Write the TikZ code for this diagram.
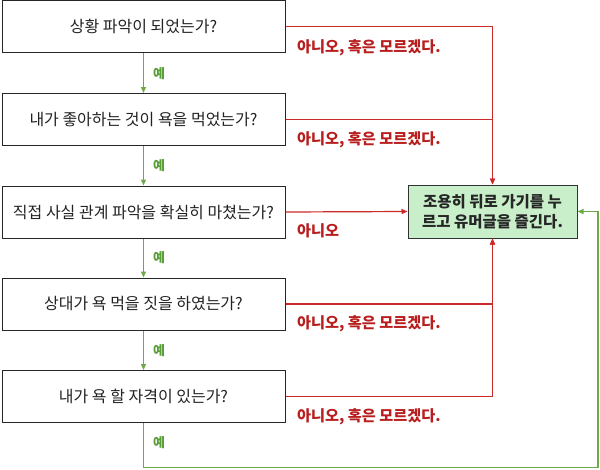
\documentclass[tikz,border=0pt]{standalone}
\usepackage{fontspec}
\setmainfont{Noto Sans CJK KR}
\usetikzlibrary{arrows.meta}
\definecolor{redline}{HTML}{CC2929}
\definecolor{redtext}{HTML}{B81E1E}
\definecolor{greenline}{HTML}{6AAA48}
\definecolor{greentext}{HTML}{5A9E3A}
\definecolor{resfill}{HTML}{C8EFCA}
\definecolor{boxtext}{HTML}{222222}
\tikzset{
  qbox/.style={draw=black!85, line width=1pt, minimum width=283pt, minimum height=52pt, inner sep=0pt, text=boxtext, font=\fontsize{16}{18}\selectfont},
  resbox/.style={draw=black!80, line width=1pt, fill=resfill, minimum width=169pt, minimum height=53pt, inner sep=0pt, align=center, text=black!85, font=\bfseries\fontsize{15.5}{19.5}\selectfont},
  noarrow/.style={draw=redline, line width=1.2pt, -{Triangle[length=6pt,width=5pt]}},
  yesarrow/.style={draw=greenline, line width=1.2pt, -{Triangle[length=6pt,width=5pt]}},
  nolabel/.style={anchor=west, text=redtext, font=\bfseries\fontsize{15.2}{17}\selectfont, inner sep=0pt},
  yeslabel/.style={text=greentext, font=\bfseries\fontsize{13}{15}\selectfont, inner sep=0pt},
}
\begin{document}
\begin{tikzpicture}[x=1pt,y=-1pt]
\useasboundingbox (0,0) rectangle (600,469);
\node[qbox] (b1) at (143.5,26.5) {상황 파악이 되었는가?};
\node[qbox] (b2) at (143.5,119.5) {내가 좋아하는 것이 욕을 먹었는가?};
\node[qbox] (b3) at (143.5,212) {직접 사실 관계 파악을 확실히 마쳤는가?};
\node[qbox] (b4) at (143.5,304) {상대가 욕 먹을 짓을 하였는가?};
\node[qbox] (b5) at (143.5,396.5) {내가 욕 할 자격이 있는가?};
\node[resbox] (res) at (492.5,211.5) {조용히 뒤로 가기를 누\\르고 유머글을 즐긴다.};

\draw[yesarrow] (b1) -- (b2);
\draw[yesarrow] (b2) -- (b3);
\draw[yesarrow] (b3) -- (b4);
\draw[yesarrow] (b4) -- (b5);
\coordinate (g1) at (143.5,467.5);
\coordinate (g2) at (598,467.5);
\draw[yesarrow] (b5.south) -- (g1) -- (g2) |- (res.east);

\node[yeslabel] (y1) at (159,74) {예};
\node[yeslabel] (y2) at (159,165.5) {예};
\node[yeslabel] (y3) at (159,258) {예};
\node[yeslabel] (y4) at (159,351) {예};
\node[yeslabel] (y5) at (159,443) {예};

\draw[noarrow] (b1.east) -| (res.north);
\draw[noarrow] (b2.east) -| (res.north);
\draw[noarrow] (b3.east) -- (res.west);
\draw[noarrow] (b4.east) -| (res.south);
\draw[noarrow] (b5.east) -| (res.south);

\node[nolabel] (n1) at (297,48) {아니오, 혹은 모르겠다.};
\node[nolabel] (n2) at (297,140) {아니오, 혹은 모르겠다.};
\node[nolabel] (n3) at (297,231) {아니오};
\node[nolabel] (n4) at (297,323.5) {아니오, 혹은 모르겠다.};
\node[nolabel] (n5) at (297,416.5) {아니오, 혹은 모르겠다.};
\end{tikzpicture}
\end{document}
